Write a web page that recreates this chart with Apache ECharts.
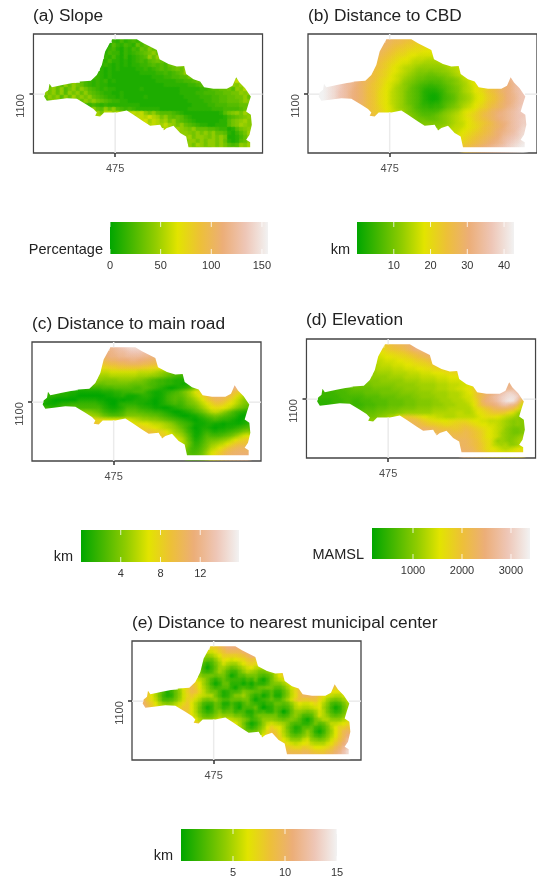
<!DOCTYPE html>
<html><head><meta charset="utf-8">
<style>html,body{margin:0;padding:0;background:#fff}#c{width:537px;height:881px}#c canvas{filter:blur(.4px)}</style>
<script src="https://cdn.jsdelivr.net/npm/echarts@6/dist/echarts.min.js"></script>
</head><body><div id="c"></div>
<script>
// Level scale for the raster rows: 0-9a-z = 0..35 of the legend range
const rampColors = ['#00A600','#48B800','#90CC00','#E2E400','#EDC038','#ECAE78','#EEC6B6','#F2F2F2'];
const rowStart = [17,16,15,15,15,14,14,14,13,12,9,1,1,0,0,0,9,11,12,12,24,26,30,33,35,35,36,36];

const slopeRows = [
"4353454675","364354375768","34532435476978","354424345678a7a","43532423456a7a86","435332323454678766",
"34323232334456565788a7","323232222334345656787a8","4323222222233334454567a87","54323222222222233344556687a8b8ac9bad9c",
"6543434232222222222333334455676a87a9c8bd9c","7a86a7a8754343322222222222222333333445676a78a9a9bac9b8",
"8a7a68a7a86543433222222322222222233333445667786a9c8ab9","a8a7a6a8a7a76543322322222222222222333344555667788a9a8a",
"7a8a6a7b8a8a76543323222223222222222333344455667788a7a85","68a7a8a6a7a8a8765443322222222222222233334455667778a9a8a",
"654543433333333222222222222233334455566677787a9a","8a76a7a654543333332222222333333444555567788a7",
"ab8cdacabcdcda8a76665432222222223689a8b9","cbdcadcbdcbddcecb8a76764322222222356789a9b",
"debdcab8a7654322222233689ab9a","cdcbdba8a76543322333689ba9a","cb9ba98a7776654423689ab",
"baa98a8a8a77632468ba","ab8aa98a8a822357a9","8aa8a8aa8a732367a9","a8ba8aa8a8656a9ba","ba8aa8bab98a7baca"];

const cbdRows = [
"onmmllkkjj","onmllkjjiiii","onmlkjjiihhhgg","nmlkjiihgggfffff","mlkjihhgffeeeeee","mlkjihgffedddcccdd",
"mkjihgfeedccbbbbbccdde","lkjigfedccbaaaaaaabccde","mkjihgfedcba999899aabcdef",
"mlkjihfedcba988777889abcdfghijlmnoqrst",
"qpnmlkihgfedba987766667889acdefgijklnoprst",
"zzxwvtsrqonmkjihfedca9876554556789abcefghjklmopqst",
"zyxwvtsrponlkjigfecba97654333456789bcdfghiklmopqstu",
"zzyxwutsqponlkjhgfdcba87653222346789bcdfghjklnopqstu",
"zzyxwutsqponlkjhgfdcba87653211245679abcefgijkmnpqrtu",
"zzyxwutsqponlkjhgfdcba87653211245679abcefgijkmnpqrtu",
"ponlkjhgfdcba8765332335678abcdfghjklnopqstu",
"nlkjigfecba9865443445789acdefhijlmnoqrsuv",
"mkjihfedcb98765555689abcefghjklnopqrstuv",
"mlkihgfedba987666789abcdeghijlmnoqqrstuuv",
"98877789abcdefgijklnopqrstuv","999999abcddfghijklnopqstuv","abbcddefghiklmnoprstuw","ddefghijklmopqrstvw",
"fghijklmnoprstuvx","ghijklmnopqstuvwy","ijklmnopqrsuvwxy","klmnopqrstuvwxyz"];

const roadRows = [
"rstuvwwwwv","qqrsstuuuttr","opqqrrssssrrqq","mnoopppqqppoonn","jkllmmnnnnmmllkj","ghhiijjjjjjiihhgfe",
"dddeeeeeeeddddcba98777","bbbcccccccbbbaa98765443","aa9999aaaa998765443322223",
"88778888887777655443322123579bdfhjlnpq",
"3344445556666655665432101234"+"69cfhjlnoppqqq",
"54443322"+"111111222334"+"4455532112345"+"68acfhjlnooonlkig",
"33322211"+"000000011223"+"1112332112456"+"679bdfiknoonmkheca",
"321000000"+"222221100010"+"1122221012456"+"5689bdfikmmljheca9",
"211123344"+"444443"+"210023"+"3332211012345"+"45789bdfhjjigfdb98",
"443344556"+"555555"+"321123"+"5554332110012"+"345679bdfggfeca876",
"aaa987"+"543345"+"7776655443210"+"012356"+"8acdca864322",
"cbba"+"876667"+"9999887765432"+"100113467876543101",
"ihh"+"gfffff"+"fedcbbaa98765"+"432101234543321012",
"kkj"+"iiihhhhgg"+"gffeddcba8"+"6543111221101111234",
"jihgfedcba"+"864201221011223456","lkjihfdb"+"a8531134323345679a","jhfd"+"ca741246555678acef",
"g"+"ec852357889abdfhij","c963468abcdfhjkkk","b854579cdfhjlmnnn",
"75568begikmnoooo","76679cfhjlnooppp"];

const elevationRows = [
"jklmmnopqq","hijkklmnpqrs","ffghhiijklmnop","eeffgghhijklmno","ddeeeffgghiijklm","ccdddeeeffgghhijkl",
"bccccdddeeeffgghhiijjk","abbbbccccdddeeefffgghhi","aaaaabbbbccccddddeeefffgg",
"9999aaaaaabbbbccccdddeeeef"+"fghjklmnopqr",
"88888999999aaaaabbbbbcccdddee"+"fhjlmnoopqqrr",
"55555566"+"7777788888999aaaabbbbcccddee"+"fgilmnoppqrrsr",
"44445556"+"6667777888889999aaaabbbbcccd"+"efhkmopqstvwvtq",
"444444555"+"55566667777888899aaaabbbcccd"+"eehkmoqstvwxxvq",
"333344455"+"44555666677778889999aabbbccc"+"deginpqrtvxyxsk",
"333344455"+"44455566677778889999aaabbbcc"+"cdfilnopqstrqme",
"555666"+"7778889999aaaabbbbcccc"+"cceghjkmnnnmkhd",
"7777"+"88999aabbbbbbbccccccdd"+"ccdfghijjjigeba",
"888"+"9aaccfhjjihgfeeddcccdd"+"dddefgggfedcba9",
"aaa"+"ccdhjkklm"+"mljihggffgghh"+"hgffeedddcba9a9b",
"nmlkjjiihhiij"+"jihgffeedcba9a9",
"oonmlkkkjjk"+"lkjihgfedca9889",
"nmmllll"+"mlkjigfedba9889",
"mmmm"+"mlkjigfedba99ab",
"nn"+"nmlkihgdaba9abc",
"nn"+"nmlkjhgdcbcaabd",
"o"+"nnmkjhgfedcdeff",
"p"+"oonmljhigfgfghi"];

const municipalRows = [
"ijlnppppqr","eegikmmmmops","babdfiiiijkmpo","877adgfefghjkjj","5358becbbdfhihff","74147bb978acefdccd",
"85458b96447acba889bdhk","a888788513668886568cfjj","fdb8535754"+"4435473148"+"bdefi",
"lifb841377"+"3331314335"+"899bdfimpq"+"rssronnn",
"cfimjfc964"+"5663145435"+"7788668beh"+"koqrssqmkj"+"jk",
"jfc85247ae"+"ilkhda8852"+"3556987664"+"463369dhkn"+"qrrljhgfgh",
"jfc84237ae"+"hjhedcc852"+"3699b85341"+"362269dgkn"+"nnmjgedcce"+"g",
"njgd95568b"+"eihec989a7"+"5577788413"+"457558beik"+"jjkkheb989"+"bd",
"olifca9ace"+"hjfc954476"+"2253257543"+"2447767adf"+"eefhfc9545"+"8b",
"qnjheeddfh"+"jjfc841376"+"3463155573"+"02365458cd"+"ccdefb8413"+"7a",
"jljfc85347"+"9677455225"+"453364037a"+"a989bec853"+"47b",
"kgda7679ba"+"aa88643688"+"8885458a85"+"56aeca7679"+"c",
"ifcaaacede"+"dcb97457aa"+"a987898631"+"48accaaace",
"kjihhhhiiihf"+"c84136aded"+"cb96553358"+"67addefhi",
"c95358bfig"+"fc85236674"+"358cfiik",
"878adhkjgc"+"95347a7314"+"8bfimn",
"filkhda767"+"9b85469cfj"+"mp",
"mifdaaadea"+"989behknr",
"igedefgdcccegjmps","ljihhjihffghjmoru","mlllmmkjjjlmoqtw","onnnoommllnoqsuw"];

// District outline [x, y] in axis units
const outline = [[465,935],[540,935],[560,947],[600,967],[608,995],[635,1009],[660,1017],[682,1015],[688,1039],[710,1055],[730,1062],[742,1079],[770,1084],[810,1084],[827,1075],[838,1049],[848,1065],[865,1082],[875,1097],[882,1107],[875,1129],[868,1152],[882,1162],[885,1192],[878,1222],[868,1237],[880,1245],[880,1260],[695,1260],[688,1227],[670,1217],[650,1195],[630,1202],[620,1209],[610,1192],[580,1195],[560,1182],[530,1162],[510,1149],[480,1155],[442,1155],[430,1167],[415,1165],[420,1155],[410,1145],[390,1132],[360,1114],[330,1112],[295,1117],[270,1120],[262,1107],[265,1095],[275,1087],[278,1069],[285,1079],[320,1072],[370,1062],[402,1060],[420,1042],[435,1012],[445,972]];
const gridSegments = [[475,919,475,935],[475,1155,475,1277],[230,1100,264,1100],[881,1100,917,1100]];
const xTicks = [475], yTicks = [1100];
const xRange = [230,917], yRange = [919,1277];
const cellSize = 12, cellX0 = 260, cellY0 = 935, lastCol = 52;

const panels = [
 {title:'(a) Slope', rows:slopeRows, soft:7, left:33.5, top:34, tx:33, ty:8, unit:'Percentage', ux:103, uy:242, bar:[110,222,158,32], range:[0,156], ticks:[0,50,100,150]},
 {title:'(b) Distance to CBD', rows:cbdRows, soft:12, left:308, top:34, tx:308, ty:8, unit:'km', ux:350, uy:242, bar:[357,222,157,32], range:[0,42.7], ticks:[10,20,30,40]},
 {title:'(c) Distance to main road', rows:roadRows, soft:11, left:32, top:342, tx:32, ty:316, unit:'km', ux:73, uy:549, bar:[81,530,158,32], range:[0,15.9], ticks:[4,8,12]},
 {title:'(d) Elevation', rows:elevationRows, soft:11, left:306.5, top:339, tx:306, ty:312, unit:'MAMSL', ux:364, uy:547, bar:[372,528,158,31], range:[163,3388], ticks:[1000,2000,3000]},
 {title:'(e) Distance to nearest municipal center', rows:municipalRows, soft:9, left:132, top:641, tx:132, ty:615, unit:'km', ux:173, uy:848, bar:[181,829,156,32], range:[0,15], ticks:[5,10,15]}
];

const FONT = 'Liberation Sans';
const digits = '0123456789abcdefghijklmnopqrstuvwxyz';
const plain = v => String(v);
function cells(p){
  const out=[];
  p.rows.forEach((s,r)=>{ for(let i=0;i<s.length;i++){
    if(rowStart[r]+i>lastCol) break;
    const lv=digits.indexOf(s[i]); if(lv<0) continue;
    out.push([cellX0+(rowStart[r]+i)*cellSize, cellY0+r*cellSize, p.range[0]+(p.range[1]-p.range[0])*lv/35]);
  }});
  return out;
}
const grid=[],xAxis=[],yAxis=[],series=[],visualMap=[],title=[];
panels.forEach((p,k)=>{
  grid.push({left:p.left,top:p.top,width:229,height:119,show:true,borderColor:'#444',borderWidth:1.3,backgroundColor:'#fff'});
  xAxis.push({gridIndex:grid.length-1,type:'value',min:xRange[0],max:xRange[1],splitLine:{show:false},axisLine:{show:false},
    axisTick:{show:true,customValues:xTicks,length:4,lineStyle:{color:'#333',width:1.5}},
    axisLabel:{customValues:xTicks,formatter:plain,margin:10,fontSize:11,color:'#4d4d4d',fontFamily:FONT}});
  yAxis.push({gridIndex:grid.length-1,type:'value',inverse:true,min:yRange[0],max:yRange[1],splitLine:{show:false},axisLine:{show:false},
    axisTick:{show:true,customValues:yTicks,length:4,lineStyle:{color:'#333',width:1.5}},
    axisLabel:{customValues:yTicks,formatter:plain,rotate:90,align:'right',verticalAlign:'bottom',margin:7,fontSize:11,color:'#4d4d4d',fontFamily:FONT}});
  const ai=grid.length-1;
  const data=cells(p);
  const vmSeries=[series.length];
  series.push({type:'custom',name:p.title,xAxisIndex:ai,yAxisIndex:ai,z:2,clip:true,progressive:0,silent:true,
    encode:{x:0,y:1},data,
    renderItem:(params,api)=>{
      const a=api.coord([api.value(0),api.value(1)]);
      const s=api.size([cellSize,cellSize]);
      return {type:'rect',shape:{x:Math.round(a[0]),y:Math.round(a[1]),width:Math.ceil(s[0])+1,height:Math.ceil(s[1])+1},style:{fill:api.visual('color')}};
    }});
  vmSeries.push(series.length);
  series.push({type:'custom',xAxisIndex:ai,yAxisIndex:ai,z:2,clip:true,progressive:0,silent:true,encode:{x:0,y:1},data,
    renderItem:(params,api)=>{
      const a=api.coord([api.value(0)+cellSize/2,api.value(1)+cellSize/2]);
      const c=api.visual('color'),R=p.soft;
      return {type:'rect',shape:{x:a[0]-R/2,y:a[1]-R/2,width:R,height:R},
        style:{fill:new echarts.graphic.RadialGradient(.5,.5,.5,[{offset:0,color:c},{offset:1,color:echarts.color.modifyAlpha(c,0)}])}};
    }});
  visualMap.push({show:false,type:'continuous',seriesIndex:vmSeries,dimension:2,min:p.range[0],max:p.range[1],inRange:{color:rampColors}});
  series.push({type:'custom',xAxisIndex:ai,yAxisIndex:ai,z:3,silent:true,clip:false,data:[[xRange[0],yRange[0]]],encode:{x:0,y:1},
    renderItem:(params,api)=>{
      const tl=api.coord([xRange[0],yRange[0]]),br=api.coord([xRange[1],yRange[1]]);
      const x0=tl[0]+1,y0=tl[1]+1,x1=br[0]-1,y1=br[1]-1;
      const ring=outline.map(q=>api.coord(q));
      const pts=[[x0,y0],[x0,y1],[x1,y1],[x1,y0],[x0,y0]].concat(ring,[ring[0],[x0,y0]]);
      return {type:'polygon',shape:{points:pts},style:{fill:'#fff',stroke:null}};
    }});
  series.push({type:'custom',xAxisIndex:ai,yAxisIndex:ai,z:4,silent:true,data:gridSegments,encode:{x:[0,2],y:[1,3]},
    renderItem:(params,api)=>{
      const a=api.coord([api.value(0),api.value(1)]),b=api.coord([api.value(2),api.value(3)]);
      return {type:'line',shape:{x1:a[0],y1:a[1],x2:b[0],y2:b[1]},style:{stroke:'#ebebeb',lineWidth:1.5}};
    }});
  // colour key
  grid.push({left:p.bar[0],top:p.bar[1],width:p.bar[2],height:p.bar[3],show:false});
  const bi=grid.length-1;
  xAxis.push({gridIndex:bi,type:'value',min:p.range[0],max:p.range[1],splitLine:{show:false},axisLine:{show:false},axisTick:{show:false},
    axisLabel:{customValues:p.ticks,formatter:plain,margin:6,fontSize:11,color:'#333',fontFamily:FONT}});
  yAxis.push({gridIndex:bi,type:'value',min:0,max:1,show:false});
  series.push({type:'custom',xAxisIndex:bi,yAxisIndex:bi,z:2,silent:true,data:[[p.range[0],0,p.range[1],1]],encode:{x:[0,2],y:[1,3]},
    renderItem:(params,api)=>{
      const a=api.coord([api.value(0),api.value(3)]),b=api.coord([api.value(2),api.value(1)]);
      return {type:'rect',shape:{x:a[0],y:a[1],width:b[0]-a[0],height:b[1]-a[1]},
        style:{fill:new echarts.graphic.LinearGradient(0,0,1,0,rampColors.map((c,i)=>({offset:i/(rampColors.length-1),color:c})))}};
    }});
  series.push({type:'custom',xAxisIndex:bi,yAxisIndex:bi,z:3,silent:true,data:p.ticks.map(t=>[t,0]),encode:{x:0,y:1},
    renderItem:(params,api)=>{
      const b=api.coord([api.value(0),0]),t=api.coord([api.value(0),1]);
      const st={stroke:'#fff',lineWidth:1,opacity:.8};
      return {type:'group',children:[
        {type:'line',shape:{x1:t[0],y1:t[1],x2:t[0],y2:t[1]+5},style:st},
        {type:'line',shape:{x1:b[0],y1:b[1]-5,x2:b[0],y2:b[1]},style:st}]};
    }});
  title.push({text:p.title,left:p.tx,top:p.ty,padding:0,textStyle:{fontSize:17.3,fontWeight:'normal',color:'#222',fontFamily:FONT}});
  title.push({text:p.unit,left:p.ux,top:p.uy,padding:0,textAlign:'right',textStyle:{fontSize:14.5,fontWeight:'normal',color:'#222',fontFamily:FONT}});
});
const chart=echarts.init(document.getElementById('c'),null,{renderer:'canvas'});
chart.setOption({animation:false,backgroundColor:'#fff',title,grid,xAxis,yAxis,visualMap,series});
</script></body></html>
